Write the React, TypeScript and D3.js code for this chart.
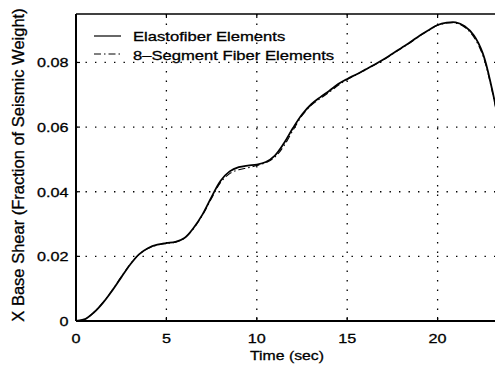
import React from "react";
import * as d3 from "d3";

const times = [0, 0.5, 1, 1.5, 2, 2.5, 3, 3.5, 4, 4.5, 5, 5.5, 6, 6.5, 7, 7.5, 8, 8.5, 9, 9.5, 10, 10.5, 11, 11.5, 12, 12.5, 13, 13.5, 14, 14.5, 15, 15.5, 16, 16.5, 17, 17.5, 18, 18.5, 19, 19.5, 20, 20.5, 21, 21.5, 22, 22.5, 23, 23.5];
const elastofiber = [0, 0.0006, 0.0027, 0.0057, 0.0094, 0.0135, 0.0175, 0.0207, 0.0226, 0.0236, 0.0241, 0.0245, 0.0257, 0.0288, 0.033, 0.0384, 0.0434, 0.0463, 0.0476, 0.0481, 0.0484, 0.0492, 0.0512, 0.055, 0.0597, 0.0639, 0.067, 0.0692, 0.0712, 0.0733, 0.0749, 0.0763, 0.0778, 0.0793, 0.0809, 0.0827, 0.0845, 0.0863, 0.0883, 0.09, 0.0916, 0.0923, 0.0924, 0.0912, 0.0884, 0.0828, 0.072, 0.058];
const fiber8 = [0, 0.0006, 0.0027, 0.0058, 0.0095, 0.0136, 0.0176, 0.0207, 0.0225, 0.0235, 0.024, 0.0244, 0.0256, 0.0286, 0.0328, 0.038, 0.0429, 0.0456, 0.0468, 0.0474, 0.0481, 0.049, 0.0507, 0.0542, 0.059, 0.0635, 0.0667, 0.0688, 0.0708, 0.0729, 0.0747, 0.0762, 0.0777, 0.0792, 0.0808, 0.0826, 0.0844, 0.0862, 0.0882, 0.0899, 0.0915, 0.0922, 0.0922, 0.0909, 0.0879, 0.0822, 0.0716, 0.058];
const xTicks = [0, 5, 10, 15, 20];
const yTicks = [0, 0.02, 0.04, 0.06, 0.08];
const yTickLabels = ["0", "0.02", "0.04", "0.06", "0.08"];
const seriesNames = ["Elastofiber Elements", "8\u2013Segment Fiber Elements"];

const W = 495;
const H = 369;
const left = 76;
const top = 14;
const bottom = 321;
const font = "'Liberation Sans', Arial, Helvetica, sans-serif";
const textStroke = { stroke: "#000", strokeWidth: 0.3 };

export default function App() {
  const x = d3.scaleLinear().domain([0, 25]).range([left, left + 25 * 18.08]);
  const y = d3.scaleLinear().domain([0, 0.095]).range([bottom, top]);
  const right = W + 10;
  const line = (vals: number[]) =>
    d3
      .line<number>()
      .x((_, i) => x(times[i]))
      .y((d) => y(d))
      .curve(d3.curveCatmullRom.alpha(0.5))(vals) || "";

  return (
    <svg width={W} height={H} style={{ position: "absolute", left: 0, top: 0, background: "#fff" }}>
      <defs>
        <clipPath id="plot">
          <rect x={left} y={top} width={right - left} height={bottom - top} />
        </clipPath>
      </defs>
      <rect x={0} y={0} width={W} height={H} fill="#fff" />
      {/* grid */}
      {xTicks.filter((t) => t > 0).map((t) => (
        <line key={"gx" + t} x1={x(t)} x2={x(t)} y1={top} y2={bottom} stroke="#000" strokeWidth={1.3} strokeDasharray="1.4 8.1" />
      ))}
      {yTicks.filter((t) => t > 0).map((t) => (
        <line key={"gy" + t} x1={left} x2={right} y1={y(t)} y2={y(t)} stroke="#000" strokeWidth={1.3} strokeDasharray="1.4 8.1" />
      ))}
      {/* axes */}
      <line x1={left} x2={left} y1={top} y2={bottom} stroke="#000" strokeWidth={2} />
      <line x1={left} x2={right} y1={bottom} y2={bottom} stroke="#000" strokeWidth={2} />
      <line x1={left} x2={right} y1={top} y2={top} stroke="#000" strokeWidth={1.6} />
      {xTicks.map((t) => (
        <g key={"tx" + t}>
          <line x1={x(t)} x2={x(t)} y1={bottom} y2={bottom - 4} stroke="#000" strokeWidth={1.2} />
          <line x1={x(t)} x2={x(t)} y1={top} y2={top + 4} stroke="#000" strokeWidth={1.2} />
          <text
            transform={`translate(${x(t)},${342.5}) scale(1.2,1)`}
            textAnchor="middle"
            fontFamily={font}
            fontSize={13.5}
            fill="#000"
            {...textStroke}
          >
            {t}
          </text>
        </g>
      ))}
      {yTicks.map((t, i) => (
        <g key={"ty" + t}>
          <line x1={left} x2={left + 4} y1={y(t)} y2={y(t)} stroke="#000" strokeWidth={1.2} />
          <text
            transform={`translate(${68.5},${y(t) + 4.8}) scale(1.2,1)`}
            textAnchor="end"
            fontFamily={font}
            fontSize={13.5}
            fill="#000"
            {...textStroke}
          >
            {yTickLabels[i]}
          </text>
        </g>
      ))}
      {/* axis titles */}
      <text
        transform={`translate(287,360) scale(1.17,1)`}
        textAnchor="middle"
        fontFamily={font}
        fontSize={13.5}
        fill="#000"
        {...textStroke}
      >
        Time (sec)
      </text>
      <text
        transform={`translate(23.5,165) rotate(-90)`}
        textAnchor="middle"
        fontFamily={font}
        fontSize={16.5}
        fill="#000"
        {...textStroke}
      >
        X Base Shear (Fraction of Seismic Weight)
      </text>
      {/* series */}
      <g clipPath="url(#plot)">
        <path d={line(elastofiber)} fill="none" stroke="#000" strokeWidth={1.8} />
        <path d={line(fiber8)} fill="none" stroke="#000" strokeWidth={1.1} strokeDasharray="7 3 1.5 3" />
      </g>
      {/* legend */}
      <line x1={94} x2={121} y1={36} y2={36} stroke="#000" strokeWidth={1.2} />
      <text transform={`translate(133,41.3) scale(1.23,1)`} fontFamily={font} fontSize={13.5} fill="#000" {...textStroke}>
        {seriesNames[0]}
      </text>
      <line x1={94} x2={121} y1={54} y2={54} stroke="#000" strokeWidth={1} strokeDasharray="7 3 1.5 3" />
      <text transform={`translate(133,59.5) scale(1.23,1)`} fontFamily={font} fontSize={13.5} fill="#000" {...textStroke}>
        {seriesNames[1]}
      </text>
    </svg>
  );
}
